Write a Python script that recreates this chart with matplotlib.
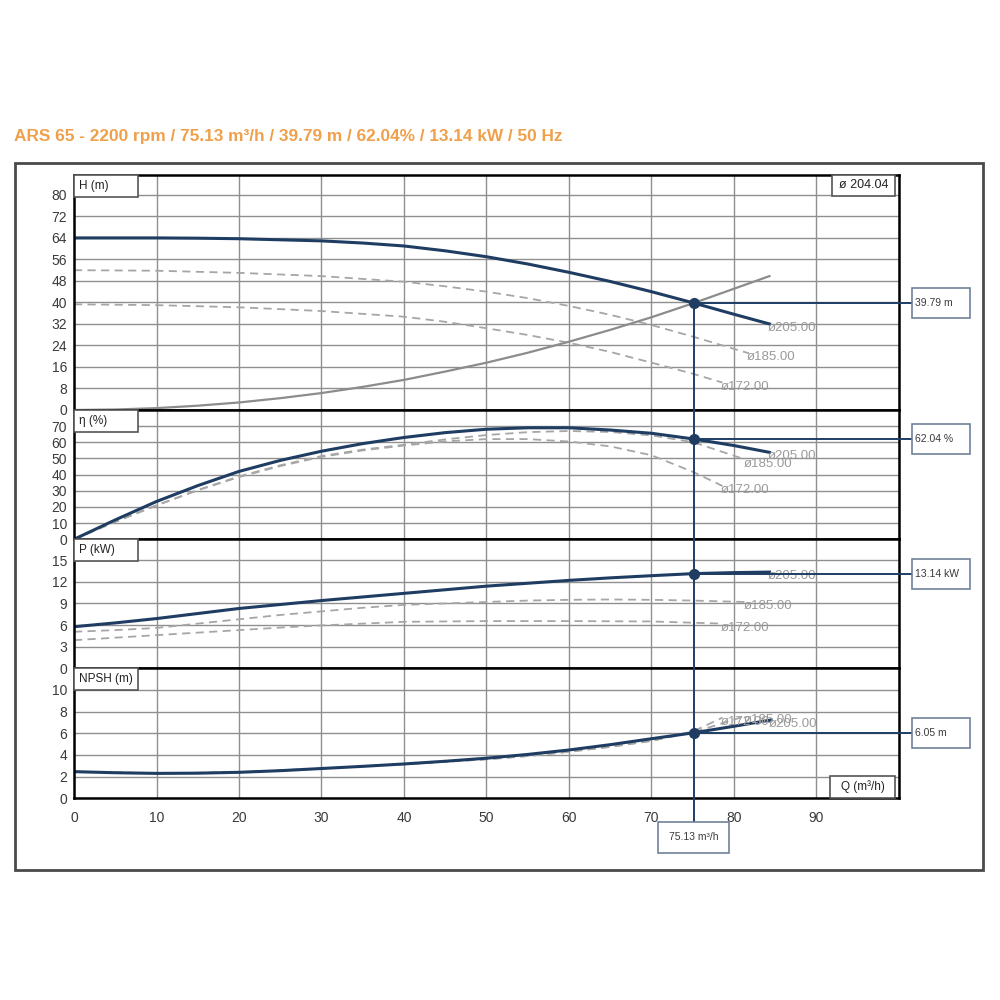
import matplotlib
matplotlib.use('Agg')
import matplotlib.pyplot as plt
from matplotlib.patches import Rectangle
from matplotlib.lines import Line2D

plt.rcParams['font.family'] = ['Liberation Sans', 'DejaVu Sans']

# ---------------- data ----------------
title = "ARS 65 - 2200 rpm / 75.13 m³/h / 39.79 m / 62.04% / 13.14 kW / 50 Hz"
diam_label = "ø 204.04"
diam_names = ["ø205.00", "ø185.00", "ø172.00"]

q_op = 75.13
h_op = 39.79
eta_op = 62.04
p_op = 13.14
npsh_op = 6.05
op_texts = ["39.79 m", "62.04 %", "13.14 kW", "6.05 m"]
q_text = "75.13 m³/h"

x_ticks = [0, 10, 20, 30, 40, 50, 60, 70, 80, 90]

# Head H (m)
q_h205 = [0, 5, 10, 15, 20, 25, 30, 35, 40, 45, 50, 55, 60, 65, 70, 75.13, 80, 84.3]
h_205 = [64, 64, 64, 63.9, 63.7, 63.3, 62.9, 62.1, 61, 59.2, 57, 54.3, 51.2, 47.8, 44, 39.79, 35.6, 32]
q_h185 = [0, 10, 20, 30, 40, 45, 50, 55, 60, 65, 70, 75, 81.8]
h_185 = [52, 51.8, 51, 49.8, 47.7, 46, 44, 41.6, 38.7, 35.4, 31.6, 27.3, 21.1]
q_h172 = [0, 10, 20, 30, 40, 45, 50, 55, 60, 65, 70, 75, 78.6]
h_172 = [39.3, 39, 38.2, 36.8, 34.7, 32.8, 30.4, 27.9, 25, 21.6, 17.6, 13.5, 10.2]
q_sys = [0, 5, 10, 15, 20, 25, 30, 35, 40, 45, 50, 55, 60, 65, 70, 75.13, 80, 84.3]
h_sys = [0, 0.18, 0.7, 1.6, 2.8, 4.4, 6.3, 8.6, 11.2, 14.3, 17.6, 21.3, 25.4, 29.8, 34.5, 39.79, 45.1, 49.8]

# Efficiency (%)
q_e205 = [0, 5, 10, 15, 20, 25, 30, 35, 40, 45, 50, 55, 60, 65, 70, 75.13, 80, 84.3]
e_205 = [0, 12, 23.4, 33.2, 42, 48.8, 54.5, 59.2, 63, 66, 68.1, 69, 69, 67.6, 65.6, 62.04, 58, 53.8]
q_e185 = [0, 5, 10, 15, 20, 25, 30, 35, 40, 45, 50, 55, 60, 65, 70, 75.13, 81.4]
e_185 = [0, 10.8, 21, 30.5, 38.9, 45.8, 51.5, 55.5, 58.5, 61.8, 64.5, 66.3, 67, 66.4, 64.3, 60, 49.3]
q_e172 = [0, 5, 10, 15, 20, 25, 30, 35, 40, 45, 50, 55, 60, 65, 70, 75.13, 78.6]
e_172 = [0, 10.8, 21, 30.3, 38.5, 45.3, 51, 55, 58, 60.6, 62, 62, 60.5, 57.5, 52, 41.5, 33]

# Power P (kW)
q_p205 = [0, 5, 10, 15, 20, 25, 30, 35, 40, 45, 50, 55, 60, 65, 70, 75.13, 80, 84.3]
p_205 = [5.77, 6.3, 6.9, 7.6, 8.3, 8.85, 9.4, 9.9, 10.4, 10.9, 11.4, 11.8, 12.2, 12.55, 12.85, 13.14, 13.28, 13.35]
q_p185 = [0, 5, 10, 15, 20, 25, 30, 35, 40, 45, 50, 55, 60, 65, 70, 75, 81.4]
p_185 = [5.07, 5.3, 5.6, 6.2, 6.8, 7.4, 7.9, 8.4, 8.8, 9.0, 9.2, 9.4, 9.5, 9.55, 9.5, 9.4, 9.2]
q_p172 = [0, 5, 10, 15, 20, 25, 30, 35, 40, 50, 60, 70, 78.6]
p_172 = [3.9, 4.25, 4.6, 4.95, 5.3, 5.65, 5.95, 6.2, 6.45, 6.55, 6.55, 6.5, 6.2]

# NPSH (m)
q_n205 = [0, 5, 10, 15, 20, 25, 30, 35, 40, 45, 50, 55, 60, 65, 70, 75.13, 80, 84.5]
n_205 = [2.46, 2.36, 2.3, 2.32, 2.4, 2.55, 2.75, 2.95, 3.17, 3.42, 3.7, 4.05, 4.46, 4.95, 5.5, 6.05, 6.65, 7.23]
q_n185 = [0, 10, 20, 30, 40, 50, 55, 60, 65, 70, 75.13, 81.4]
n_185 = [2.46, 2.3, 2.4, 2.75, 3.15, 3.6, 3.9, 4.3, 4.75, 5.3, 6.1, 7.6]
q_n172 = [0, 10, 20, 30, 40, 50, 55, 60, 65, 70, 75.13, 78.6]
n_172 = [2.46, 2.3, 2.4, 2.75, 3.15, 3.6, 3.9, 4.3, 4.75, 5.3, 6.2, 7.45]

panel_labels = ["H (m)", "η (%)", "P (kW)", "NPSH (m)"]
y_ticks = [list(range(0, 81, 8)), list(range(0, 71, 10)),
           list(range(0, 16, 3)), list(range(0, 11, 2))]
y_lims = [87.4, 80, 17.9, 12]

# ---------------- style ----------------
W = H = 1000
NAVY = '#1f3d63'
DASH = '#a6a6a6'
SYS = '#8c8c8c'
GRID = '#8f8f8f'
TXT = '#3a3a3a'
LBL = '#9a9a9a'

fig = plt.figure(figsize=(10, 10), dpi=100)


def fx(px):
    return px / W


def fy(py):
    return 1 - py / H


# outer frame
fig.patches.append(Rectangle((fx(15), fy(870)), fx(968), 707 / H, transform=fig.transFigure,
                             fill=False, edgecolor='#4a4a4a', lw=2))
fig.text(fx(14), fy(137), title, fontsize=12.4, fontweight='bold', color='#f0a04b',
         ha='left', va='center')

# panels: (top px, bottom px)
panel_px = [(175, 410), (410, 539.3), (539.3, 668.3), (668.3, 798.3)]
left_px, right_px = 74, 899
axes = []
for i, (t, b) in enumerate(panel_px):
    ax = fig.add_axes([fx(left_px), fy(b), (right_px - left_px) / W, (b - t) / H])
    ax.set_xlim(0, 100)
    ax.set_ylim(0, y_lims[i])
    ax.set_xticks(x_ticks + [100])
    ax.set_yticks(y_ticks[i])
    ax.set_yticklabels([str(v) for v in y_ticks[i]])
    ax.grid(True, color=GRID, lw=1.0)
    ax.set_axisbelow(True)
    ax.tick_params(length=0, labelsize=10, labelcolor=TXT, pad=5)
    if i < 3:
        ax.tick_params(labelbottom=False)
    else:
        ax.set_xticklabels([str(v) for v in x_ticks] + [""])
        ax.tick_params(axis='x', pad=9)
    for s in ax.spines.values():
        s.set_color('black')
        s.set_linewidth(1.8)
    axes.append(ax)

axH, axE, axP, axN = axes

dash_style = (0, (4.5, 3))

# Head
axH.plot(q_h185, h_185, color=DASH, lw=1.3, ls=dash_style)
axH.plot(q_h172, h_172, color=DASH, lw=1.3, ls=dash_style)
axH.plot(q_sys, h_sys, color=SYS, lw=1.6)
axH.plot(q_h205, h_205, color=NAVY, lw=2.2)
# Efficiency
axE.plot(q_e185, e_185, color=DASH, lw=1.3, ls=dash_style)
axE.plot(q_e172, e_172, color=DASH, lw=1.3, ls=dash_style)
axE.plot(q_e205, e_205, color=NAVY, lw=2.2)
# Power
axP.plot(q_p185, p_185, color=DASH, lw=1.3, ls=dash_style)
axP.plot(q_p172, p_172, color=DASH, lw=1.3, ls=dash_style)
axP.plot(q_p205, p_205, color=NAVY, lw=2.2)
# NPSH
axN.plot(q_n185, n_185, color=DASH, lw=1.3, ls=dash_style)
axN.plot(q_n172, n_172, color=DASH, lw=1.3, ls=dash_style)
axN.plot(q_n205, n_205, color=NAVY, lw=2.2)

# diameter labels at curve ends
curve_sets = [
    (axH, [(q_h205, h_205), (q_h185, h_185), (q_h172, h_172)]),
    (axE, [(q_e205, e_205), (q_e185, e_185), (q_e172, e_172)]),
    (axP, [(q_p205, p_205), (q_p185, p_185), (q_p172, p_172)]),
    (axN, [(q_n205, n_205), (q_n185, n_185), (q_n172, n_172)]),
]
for ax, curves in curve_sets:
    for name, (qq, vv) in zip(diam_names, curves):
        ax.annotate(name, (qq[-1], vv[-1]), xytext=(-2, -4), textcoords='offset pixels',
                    fontsize=9.5, color=LBL, ha='left', va='center', zorder=5)

# operating points
ops = [(axH, h_op), (axE, eta_op), (axP, p_op), (axN, npsh_op)]
inv = fig.transFigure.inverted()
xq_fig = inv.transform(axH.transData.transform((q_op, 0)))[0]
yH_fig = inv.transform(axH.transData.transform((q_op, h_op)))[1]
fig.lines.append(Line2D([xq_fig, xq_fig], [yH_fig, fy(822)], transform=fig.transFigure,
                        color=NAVY, lw=1.4, zorder=3))
for (ax, v), txt in zip(ops, op_texts):
    ax.plot([q_op], [v], 'o', color=NAVY, ms=7, zorder=6)
    y_fig = inv.transform(ax.transData.transform((q_op, v)))[1]
    fig.lines.append(Line2D([xq_fig, fx(912)], [y_fig, y_fig], transform=fig.transFigure,
                            color=NAVY, lw=1.4, zorder=3))
    fig.patches.append(Rectangle((fx(912), y_fig - 15 / H), 58 / W, 30 / H,
                                 transform=fig.transFigure, facecolor='white',
                                 edgecolor='#6f8298', lw=1.2, zorder=4))
    fig.text(fx(915), y_fig, txt, fontsize=7.5, color=TXT, ha='left', va='center', zorder=5)

# Q box below
fig.patches.append(Rectangle((xq_fig - 35.5 / W, fy(853)), 71 / W, 31 / H,
                             transform=fig.transFigure, facecolor='white',
                             edgecolor='#6f8298', lw=1.2, zorder=4))
fig.text(xq_fig, fy(837.5), q_text, fontsize=7.5, color=TXT, ha='center', va='center', zorder=5)


def box(x0, y0, x1, y1, text, fs=8.5, ha='left'):
    fig.patches.append(Rectangle((fx(x0), fy(y1)), (x1 - x0) / W, (y1 - y0) / H,
                                 transform=fig.transFigure, facecolor='white',
                                 edgecolor='#555555', lw=1.2, zorder=10))
    tx = fx(x0 + 5) if ha == 'left' else fx((x0 + x1) / 2)
    fig.text(tx, fy((y0 + y1) / 2), text, fontsize=fs, color='#222222', ha=ha,
             va='center', zorder=11)


for (t, b), lab in zip(panel_px, panel_labels):
    box(74, t, 138, t + 22, lab)
box(832, 175, 895, 196, diam_label, fs=9, ha='center')
box(830, 776, 895, 797.5, "Q (m³/h)", fs=8.5, ha='center')

fig.savefig('out.png', dpi=100)
